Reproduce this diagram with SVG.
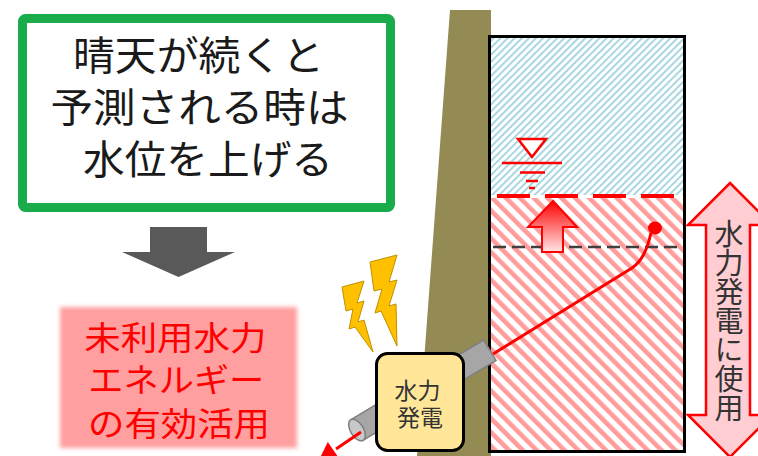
<svg xmlns="http://www.w3.org/2000/svg" width="758" height="456" viewBox="0 0 758 456">
  <defs>
    <style>
      .jp { font-family: "Noto Sans CJK JP", "Noto Sans", sans-serif; }
      .title { font-size: 40px; fill: #1a1a1a; text-anchor: middle; }
      .effect { font-size: 33px; fill: #ff0000; text-anchor: middle; }
      .gen { font-size: 23px; fill: #333333; text-anchor: middle; }
      .use { font-size: 29px; fill: #333333; text-anchor: middle; writing-mode: vertical-rl; }
      .bolt { fill: #ffc000; stroke: #bf9000; stroke-width: 1; stroke-linejoin: round; }
      .lvl { stroke: #ff0000; stroke-width: 2.5; fill: none; }
    </style>
    <pattern id="hatchBlue" patternUnits="userSpaceOnUse" width="5" height="10" patternTransform="rotate(45)">
      <rect x="0" y="0" width="1.8" height="10" fill="#9fd2dd"/>
    </pattern>
    <pattern id="hatchRed" patternUnits="userSpaceOnUse" width="9.8" height="20" patternTransform="rotate(-45)">
      <rect x="0" y="0" width="4.6" height="20" fill="#ff9c9c"/>
    </pattern>
    <linearGradient id="upGrad" x1="0" y1="0" x2="0" y2="1">
      <stop offset="0" stop-color="#ff0000"/>
      <stop offset="1" stop-color="#ffe6e6"/>
    </linearGradient>
    <filter id="soft" x="-10%" y="-10%" width="120%" height="120%">
      <feGaussianBlur stdDeviation="2"/>
    </filter>
  </defs>

  <rect width="758" height="456" fill="#ffffff"/>

  <!-- Condition box -->
  <g id="condition">
    <rect x="22.5" y="18.5" width="368" height="189" rx="3" fill="#ffffff" stroke="#1aab4b" stroke-width="9"/>
    <text class="jp title">
      <tspan x="203" y="70" textLength="251" lengthAdjust="spacingAndGlyphs">晴天が続くと</tspan>
      <tspan x="204" y="122" textLength="298" lengthAdjust="spacingAndGlyphs">予測される時は</tspan>
      <tspan x="208" y="174" textLength="250" lengthAdjust="spacingAndGlyphs">水位を上げる</tspan>
    </text>
  </g>

  <!-- Result box -->
  <g id="result">
    <rect x="60" y="307" width="237" height="141" fill="#ff9f9f" filter="url(#soft)"/>
    <text class="jp effect">
      <tspan x="179" y="350" textLength="182" lengthAdjust="spacingAndGlyphs">未利用水力</tspan>
      <tspan x="180" y="392" textLength="176" lengthAdjust="spacingAndGlyphs">エネルギー</tspan>
      <tspan x="179" y="436" textLength="182" lengthAdjust="spacingAndGlyphs">の有効活用</tspan>
    </text>
  </g>

  <!-- Dam wall -->
  <g id="dam">
    <polygon points="450,10 491,10 491,456 417,456" fill="#948a54"/>
  </g>

  <!-- Reservoir -->
  <g id="reservoir">
    <rect x="491" y="38" width="193" height="157" fill="url(#hatchBlue)"/>
    <rect x="491" y="198" width="193" height="254" fill="url(#hatchRed)"/>
    <rect x="489.5" y="36.5" width="195" height="415" fill="none" stroke="#000000" stroke-width="3"/>
  </g>

  <!-- Water level marker -->
  <g id="level-mark">
    <polygon points="518,139 546,139 532,157" fill="#ffffff" stroke="#ff0000" stroke-width="2.5"/>
    <line class="lvl" x1="502" y1="163" x2="562" y2="163"/>
    <line class="lvl" x1="520" y1="172.5" x2="545" y2="172.5"/>
    <line class="lvl" x1="526" y1="181" x2="538" y2="181"/>
    <line class="lvl" x1="529" y1="188" x2="535" y2="188"/>
  </g>

  <!-- Connectors -->
  <g id="connectors">
    <polygon points="150,227 207,227 207,252 235,252 178.5,277 122,252 150,252" fill="#595959"/>
    <line x1="497" y1="196" x2="683" y2="196" stroke="#ff0000" stroke-width="4" stroke-dasharray="33 15"/>
    <line x1="493" y1="247" x2="683" y2="247" stroke="#404040" stroke-width="2.5" stroke-dasharray="13 6"/>
    <polygon points="553,201 577,227 563,227 563,252 542,252 542,227 528,227" fill="url(#upGrad)" stroke="#ff0000" stroke-width="2"/>
    <path d="M493,354 L632,268 C642,261 647,250 651,233" fill="none" stroke="#ff0000" stroke-width="3"/>
    <ellipse cx="655" cy="228" rx="7" ry="6.5" fill="#ff0000"/>
  </g>

  <!-- Penstock pipe -->
  <g id="pipe" transform="translate(357,430) rotate(-31)">
    <rect x="0" y="-12" width="155" height="24" fill="#a6a6a6" stroke="#7f7f7f" stroke-width="1.5"/>
    <ellipse cx="0" cy="0" rx="6.5" ry="12" fill="#c8c8c8" stroke="#7f7f7f" stroke-width="1.5"/>
  </g>

  <!-- Outflow arrow -->
  <g id="outflow">
    <line x1="361" y1="432" x2="336" y2="449" stroke="#ff0000" stroke-width="3"/>
    <polygon points="318,462 340.2,460.1 327.8,441.9" fill="#ff0000"/>
  </g>

  <!-- Generator -->
  <g id="generator">
    <rect x="376.5" y="353.5" width="87" height="97" rx="11" fill="#ffe699" stroke="#000000" stroke-width="3"/>
    <text class="jp gen">
      <tspan x="420" y="399">水力</tspan>
      <tspan x="420" y="426">発電</tspan>
    </text>
  </g>

  <!-- Electricity -->
  <g id="bolts">
    <polygon class="bolt" points="342,287 364,281 357,303 364,301 358,322 364,320 373,352 355,327 349,329 353,309 346,311"/>
    <polygon class="bolt" points="370,262 397,255 389,282 397,280 389,306 396,304 397,346 381,311 375,313 382,289 374,291"/>
  </g>

  <!-- Usable range arrow -->
  <g id="usable-range">
    <polygon points="730,183 772,225 750,225 750,415 772,415 730,457 688,415 706,415 706,225 688,225" fill="#ffcdd2" stroke="#ff0000" stroke-width="2.5" stroke-linejoin="miter"/>
    <text class="jp use" x="729" y="321">水力発電に使用</text>
  </g>
</svg>
